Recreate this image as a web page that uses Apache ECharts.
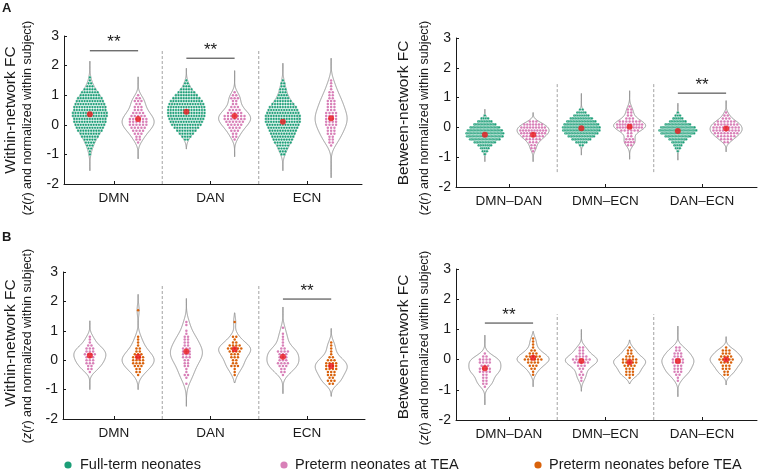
<!DOCTYPE html>
<html>
<head>
<meta charset="utf-8">
<script src="https://cdn.jsdelivr.net/npm/echarts@6/dist/echarts.min.js"></script>
<style>
  html, body { margin: 0; background: #fff; }
  #chart { width: 758px; height: 474px; }
</style>
</head>
<body>
<div id="chart"></div>
<script>
// Swarm rows are 0.1 apart in FC value; counts go from the lowest row upward.
const withinCats = ['DMN', 'DAN', 'ECN'];
const betweenCats = ['DMN–DAN', 'DMN–ECN', 'DAN–ECN'];

// A – within-network, full-term vs preterm at TEA
const aWithinTermStart = [-1.0, -0.5, -1.0];
const aWithinTermCounts = [
  [1, 1, 2, 3, 4, 5, 7, 8, 10, 11, 12, 13, 13, 14, 14, 13, 13, 12, 11, 10, 8, 7, 5, 3, 2, 1, 1],
  [2, 4, 6, 8, 10, 12, 13, 14, 15, 15, 15, 15, 14, 13, 11, 9, 7, 5, 3, 2, 1],
  [2, 3, 4, 5, 7, 8, 9, 10, 11, 12, 13, 14, 14, 14, 13, 12, 11, 9, 7, 5, 4, 3, 3, 2, 2, 1]
];
const aWithinTermMeans = [0.36, 0.44, 0.1];
const aWithinTermTails = [[-1.55, 2.15], [-0.82, 1.91], [-1.55, 2.08]];

const aWithinTeaStart = [-0.6, -0.5, -0.7];
const aWithinTeaCounts = [
  [1, 2, 2, 3, 4, 5, 6, 6, 6, 5, 4, 3, 3, 2, 3, 2, 1],
  [1, 2, 2, 3, 4, 5, 6, 7, 7, 5, 4, 3, 2, 2, 3, 2, 1],
  [1, 2, 2, 2, 3, 3, 3, 4, 4, 4, 4, 4, 3, 3, 3, 3, 2, 2, 2, 1, 1, 1, 1]
];
const aWithinTeaMeans = [0.2, 0.3, 0.22];
const aWithinTeaTails = [[-1.15, 1.62], [-1.08, 1.83], [-1.79, 2.25]];

// A – between-network
const aBetweenTermStart = [-0.9, -0.6, -0.8];
const aBetweenTermCounts = [
  [1, 3, 5, 8, 14, 22, 27, 27, 25, 21, 15, 9, 4, 1],
  [2, 6, 12, 17, 22, 25, 25, 23, 19, 14, 9, 5, 2],
  [1, 3, 5, 8, 12, 18, 26, 30, 27, 18, 11, 6, 3, 1]
];
const aBetweenTermMeans = [-0.25, -0.03, -0.12];
const aBetweenTermTails = [[-1.15, 0.61], [-0.93, 1.14], [-1.1, 0.81]];

const aBetweenTeaStart = [-0.8, -0.6, -0.5];
const aBetweenTeaCounts = [
  [1, 2, 2, 3, 5, 7, 9, 10, 9, 7, 3],
  [2, 4, 3, 2, 2, 6, 10, 10, 7, 3, 2, 2, 2, 1],
  [2, 4, 6, 8, 9, 9, 8, 6, 3, 2, 1]
];
const aBetweenTeaMeans = [-0.25, 0.02, -0.04];
const aBetweenTeaTails = [[-1.15, 0.5], [-1.07, 1.23], [-0.82, 0.9]];

// B – within-network, preterm at TEA vs before TEA
const bWithinTeaStart = [-0.4, -0.8, -0.5];
const bWithinTeaCounts = [
  [1, 2, 2, 3, 3, 3, 4, 3, 3, 2, 1, 1, 1],
  [1, 0, 1, 2, 1, 1, 2, 2, 2, 3, 3, 3, 3, 2, 2, 2, 2, 1, 1, 0, 1, 1],
  [1, 2, 2, 3, 4, 3, 3, 3, 4, 2, 1, 1, 1, 1, 1, 0, 1]
];
const bWithinTeaMeans = [0.16, 0.3, 0.12];
const bWithinTeaTails = [[-1.0, 1.34], [-1.57, 2.1], [-1.14, 1.81]];

const bWithinPreStart = [-0.5, -0.5, -0.8];
const bWithinPreCounts = [
  [1, 2, 2, 3, 4, 4, 4, 3, 2, 2, 1, 1, 1, 1, 0, 0, 0, 0, 0, 0, 0, 0, 1],
  [1, 1, 1, 3, 2, 2, 3, 3, 4, 5, 4, 2, 1, 2, 0, 0, 0, 0, 1],
  [2, 3, 2, 3, 3, 4, 4, 4, 3, 2, 1, 1, 1, 1, 1]
];
const bWithinPreMeans = [0.12, 0.37, -0.2];
const bWithinPreTails = [[-1.0, 2.24], [-0.76, 1.61], [-1.23, 1.08]];

// B – between-network
const bBetweenTeaStart = [-0.9, -0.7, -0.7];
const bBetweenTeaCounts = [
  [1, 2, 2, 2, 2, 4, 4, 3, 4, 4, 2, 1],
  [1, 1, 2, 1, 2, 3, 5, 6, 4, 2, 2, 2],
  [1, 1, 2, 3, 3, 3, 4, 4, 3, 3, 2, 2]
];
const bBetweenTeaMeans = [-0.29, -0.05, -0.05];
const bBetweenTeaTails = [[-1.5, 0.81], [-1.05, 1.0], [-1.23, 1.11]];

const bBetweenPreStart = [-0.5, -0.6, -0.5];
const bBetweenPreCounts = [
  [1, 1, 2, 3, 4, 6, 5, 3, 2, 1, 1, 1, 1],
  [1, 3, 3, 3, 4, 5, 5, 3, 2, 2, 1],
  [2, 2, 3, 3, 4, 5, 4, 3, 3, 1]
];
const bBetweenPreMeans = [0.06, -0.09, 0.0];
const bBetweenPreTails = [[-0.9, 0.93], [-0.79, 0.65], [-0.84, 0.76]];

// significance brackets: [category, y]
const aWithinSig = [[1, 2.5], [2, 2.25]];
const aBetweenSig = [[3, 1.15]];
const bWithinSig = [[3, 2.08]];
const bBetweenSig = [[1, 1.21]];

// ---- styling ----
const FONT = '"Liberation Sans", Arial, sans-serif';
const INK = '#1a1a1a';
const GREEN = '#1b9e77', PINK = '#d880b8', ORANGE = '#d9620b', RED = '#e8161b';
const VIOLIN_HALF = 16;   // px, widest point of each violin
const OFFSET = 0.25;      // left/right violin offset from category centre

function grp(color, start, counts, means, tails, dense) {
  return { color, start, counts, means, tails, dense };
}

const panels = [
  {
    grid: { left: 64, top: 36, width: 298, height: 148 }, xMin: 0.482, xMax: 3.57, cats: withinCats,
    groups: [grp(GREEN, aWithinTermStart, aWithinTermCounts, aWithinTermMeans, aWithinTermTails, true),
             grp(PINK, aWithinTeaStart, aWithinTeaCounts, aWithinTeaMeans, aWithinTeaTails, false)],
    sep: [-2, 2.52], sig: aWithinSig
  },
  {
    grid: { left: 456, top: 38, width: 301, height: 149 }, xMin: 0.451, xMax: 3.57, cats: betweenCats,
    groups: [grp(GREEN, aBetweenTermStart, aBetweenTermCounts, aBetweenTermMeans, aBetweenTermTails, true),
             grp(PINK, aBetweenTeaStart, aBetweenTeaCounts, aBetweenTeaMeans, aBetweenTeaTails, false)],
    sep: [-1.5, 1.5], sig: aBetweenSig
  },
  {
    grid: { left: 63, top: 272, width: 302, height: 147 }, xMin: 0.472, xMax: 3.6, cats: withinCats,
    groups: [grp(PINK, bWithinTeaStart, bWithinTeaCounts, bWithinTeaMeans, bWithinTeaTails, false),
             grp(ORANGE, bWithinPreStart, bWithinPreCounts, bWithinPreMeans, bWithinPreTails, false)],
    sep: [-2, 2.55], sig: bWithinSig
  },
  {
    grid: { left: 456, top: 269, width: 301, height: 151 }, xMin: 0.451, xMax: 3.57, cats: betweenCats,
    groups: [grp(PINK, bBetweenTeaStart, bBetweenTeaCounts, bBetweenTeaMeans, bBetweenTeaTails, false),
             grp(ORANGE, bBetweenPreStart, bBetweenPreCounts, bBetweenPreMeans, bBetweenPreTails, false)],
    sep: [-2, 1.5], sig: bBetweenSig
  }
];

// kernel density of the swarm rows (Silverman bandwidth)
function kde(rows) {
  let n = 0, s = 0, s2 = 0;
  rows.forEach(([y, c]) => { n += c; s += c * y; s2 += c * y * y; });
  const m = s / n;
  const sd = Math.sqrt(Math.max(s2 / n - m * m, 1e-4));
  const h = 0.85 * 1.06 * sd * Math.pow(n, -0.2);
  return y => rows.reduce((a, [yi, c]) => a + c * Math.exp(-0.5 * ((y - yi) / h) ** 2), 0);
}

const violins = [];
const grids = [], xAxes = [], yAxes = [], series = [];

panels.forEach((p, pi) => {
  grids.push(p.grid);
  xAxes.push({
    gridIndex: pi, type: 'value', min: p.xMin, max: p.xMax,
    axisLine: { show: true, onZero: false, lineStyle: { color: INK, width: 1 } },
    axisTick: { show: true, inside: true, length: 3, customValues: [1, 2, 3], lineStyle: { color: INK } },
    axisLabel: { customValues: [1, 2, 3], formatter: v => p.cats[Math.round(v) - 1],
                 fontSize: 13.5, color: INK, fontFamily: FONT, margin: 7 },
    splitLine: { show: false }
  });
  yAxes.push({
    gridIndex: pi, type: 'value', min: -2, max: 3, interval: 1,
    axisLine: { show: true, onZero: false, lineStyle: { color: INK, width: 1 } },
    axisTick: { show: true, inside: true, length: 3, lineStyle: { color: INK } },
    axisLabel: { fontSize: 14, color: INK, fontFamily: FONT, margin: 5 },
    splitLine: { show: false }
  });

  const violinData = [];
  const meanData = [];
  p.groups.forEach((g, gi) => {
    const dots = [];
    g.counts.forEach((counts, ci) => {
      const xc = ci + 1 + (gi === 0 ? -OFFSET : OFFSET);
      const rows = counts.map((c, i) => [+(g.start[ci] + i * 0.1).toFixed(2), c]).filter(r => r[1] > 0);
      const f = kde(rows);
      const [lo, hi] = g.tails[ci];
      const steps = Math.round((hi - lo) / 0.01);
      const prof = [];
      let dmax = 0;
      for (let k = 0; k <= steps; k++) {
        const y = lo + (hi - lo) * k / steps;
        const d = f(y);
        dmax = Math.max(dmax, d);
        prof.push([y, d]);
      }
      prof.forEach(q => { q[1] /= dmax; });
      violins.push({ x: xc, prof });
      violinData.push([xc, g.means[ci], violins.length - 1]);
      meanData.push([xc, g.means[ci]]);

      const gap = g.dense ? 2.6 : 3.3;
      const fill = g.dense ? 1.15 : 0.8;
      rows.forEach(([y, n]) => {
        const w = VIOLIN_HALF * f(y) / dmax;
        const spread = n > 1 ? Math.min((n - 1) * gap / 2, fill * w) : 0;
        for (let j = 0; j < n; j++) {
          const off = n > 1 ? -spread + j * 2 * spread / (n - 1) : 0;
          dots.push([xc, y, off]);
        }
      });
    });
    series.push({
      type: 'custom', xAxisIndex: pi, yAxisIndex: pi, silent: true, z: 3,
      encode: { x: 0, y: 1 }, data: dots,
      renderItem: (params, api) => {
        const c = api.coord([api.value(0), api.value(1)]);
        return { type: 'circle', shape: { cx: c[0] + api.value(2), cy: c[1], r: g.dense ? 1.35 : 1.25 },
                 style: g.dense ? { fill: g.color, stroke: '#fff', lineWidth: 0.35 } : { fill: g.color } };
      }
    });
  });

  series.push({
    type: 'custom', xAxisIndex: pi, yAxisIndex: pi, silent: true, z: 2,
    encode: { x: 0, y: 1 }, data: violinData,
    renderItem: (params, api) => {
      const v = violins[api.value(2)];
      const right = [], left = [];
      v.prof.forEach(([y, w]) => {
        const c = api.coord([v.x, y]);
        right.push([c[0] + w * VIOLIN_HALF, c[1]]);
        left.push([c[0] - w * VIOLIN_HALF, c[1]]);
      });
      return { type: 'polygon', shape: { points: right.concat(left.reverse()) },
               style: { fill: 'none', stroke: '#8a8a8a', lineWidth: 0.9 } };
    }
  });

  series.push({
    type: 'custom', xAxisIndex: pi, yAxisIndex: pi, silent: true, z: 1,
    encode: { x: 0, y: 1 }, data: [[1.5, p.sep[0]], [2.5, p.sep[0]]],
    renderItem: (params, api) => {
      const a = api.coord([api.value(0), p.sep[0]]);
      const b = api.coord([api.value(0), p.sep[1]]);
      return { type: 'line', shape: { x1: a[0], y1: a[1], x2: b[0], y2: b[1] },
               style: { stroke: '#8c8c8c', lineWidth: 0.8, lineDash: [3, 2] } };
    }
  });

  series.push({
    type: 'custom', xAxisIndex: pi, yAxisIndex: pi, silent: true, z: 4,
    encode: { x: 0, y: 1 }, data: p.sig,
    renderItem: (params, api) => {
      const a = api.coord([api.value(0) - OFFSET, api.value(1)]);
      const b = api.coord([api.value(0) + OFFSET, api.value(1)]);
      return { type: 'group', children: [
        { type: 'line', shape: { x1: a[0], y1: a[1], x2: b[0], y2: b[1] },
          style: { stroke: '#333', lineWidth: 1 } },
        { type: 'text', style: { text: '**', x: (a[0] + b[0]) / 2, y: a[1] - 8, align: 'center',
          verticalAlign: 'middle', font: '17px ' + FONT, fill: INK } }
      ] };
    }
  });

  series.push({
    type: 'scatter', xAxisIndex: pi, yAxisIndex: pi, silent: true, z: 5,
    symbol: 'circle', symbolSize: 6, itemStyle: { color: RED }, data: meanData
  });
});

function axisTitle(x1, y1, x2, y2, main) {
  return [
    { type: 'text', x: x1, y: y1, rotation: Math.PI / 2,
      style: { text: main, font: '15.5px ' + FONT, fill: INK, align: 'center', verticalAlign: 'middle' } },
    { type: 'text', x: x2, y: y2, rotation: Math.PI / 2,
      style: { text: '{n|(}{i|z}{n|(}{i|r}{n|) and normalized within subject)}', align: 'center',
        verticalAlign: 'middle', fill: INK,
        rich: { n: { font: '12.5px ' + FONT, fill: INK }, i: { font: 'italic 12.5px ' + FONT, fill: INK } } } }
  ];
}

function legendItem(cx, tx, color, label) {
  return [
    { type: 'circle', shape: { cx, cy: 465, r: 3.6 }, style: { fill: color } },
    { type: 'text', x: tx, y: 465, style: { text: label, font: '14.5px ' + FONT, fill: INK,
      align: 'left', verticalAlign: 'middle' } }
  ];
}

const graphics = [
  { type: 'text', x: 2, y: 2, style: { text: 'A', font: 'bold 13px ' + FONT, fill: INK } },
  { type: 'text', x: 2, y: 231, style: { text: 'B', font: 'bold 13px ' + FONT, fill: INK } },
  ...axisTitle(11, 110, 28, 118, 'Within-network FC'),
  ...axisTitle(404, 113, 425, 118, 'Between-network FC'),
  ...axisTitle(11, 343, 28, 346, 'Within-network FC'),
  ...axisTitle(404, 347, 425, 348, 'Between-network FC'),
  ...legendItem(68, 80, GREEN, 'Full-term neonates'),
  ...legendItem(284, 295, PINK, 'Preterm neonates at TEA'),
  ...legendItem(538, 549, ORANGE, 'Preterm neonates before TEA')
];

const chart = echarts.init(document.getElementById('chart'), null, { renderer: 'canvas' });
chart.setOption({
  animation: false,
  backgroundColor: '#fff',
  grid: grids,
  xAxis: xAxes,
  yAxis: yAxes,
  series,
  graphic: graphics
});
</script>
</body>
</html>
